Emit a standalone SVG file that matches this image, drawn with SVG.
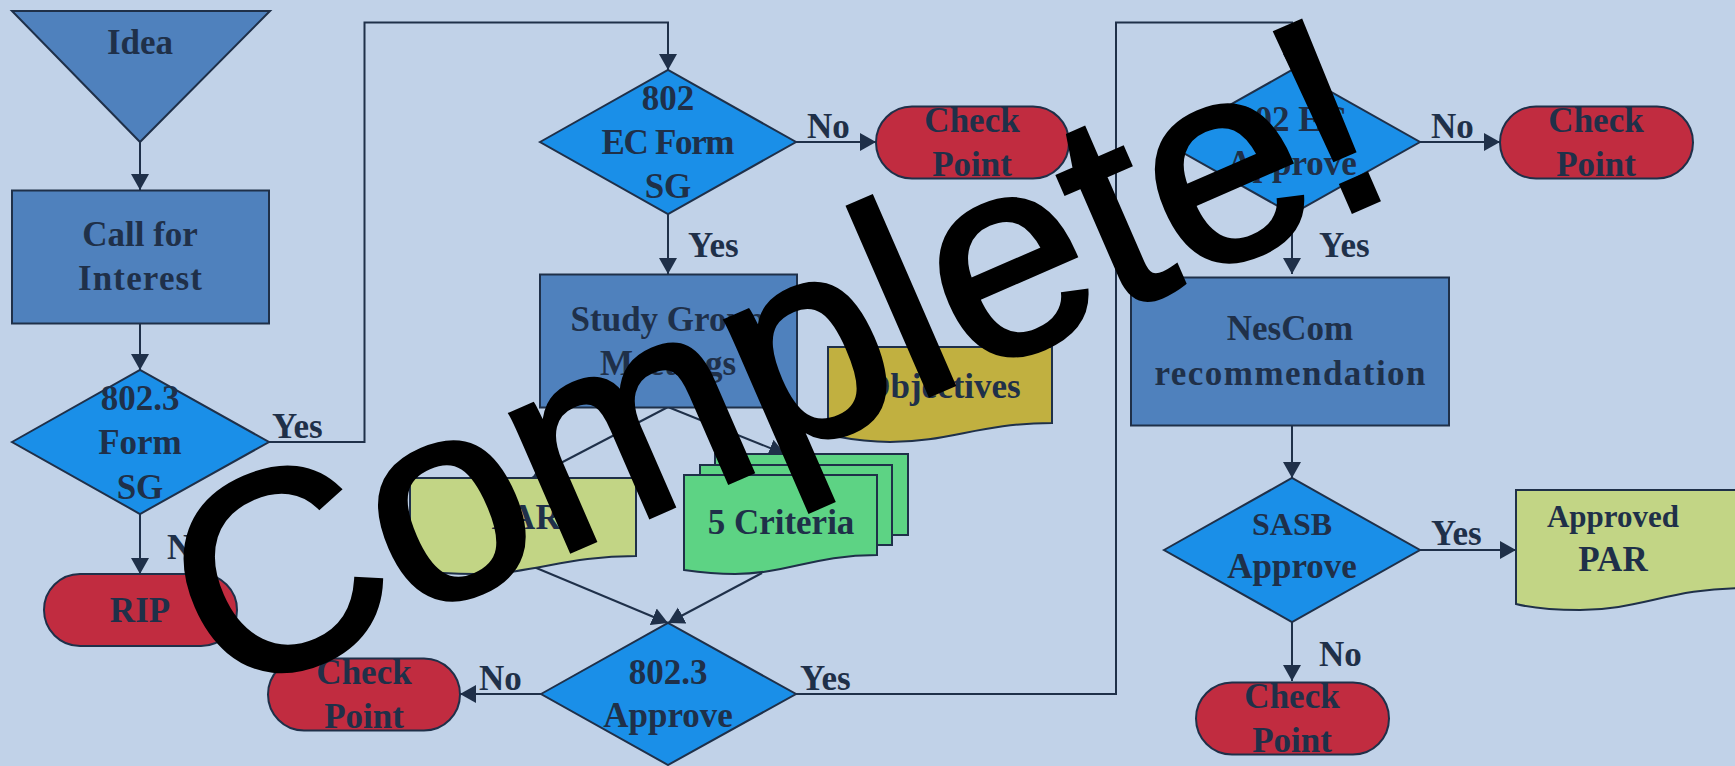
<svg xmlns="http://www.w3.org/2000/svg" width="1735" height="766" viewBox="0 0 1735 766">
<style>
.s{stroke:#1f3049;stroke-width:2}
.b{fill:#4f81bd}.d{fill:#1a8fe8}.r{fill:#c12c40}.o{fill:#c1b040}.g{fill:#5dd384}.l{fill:#c2d585}
text{font-family:"Liberation Serif",serif;font-weight:700;font-size:35px;fill:#1f3049;text-anchor:middle}
text.t{text-anchor:start}
.c{fill:none;stroke:#1f3049;stroke-width:2}
.a{marker-end:url(#h)}
#bang{font-family:"Liberation Sans",Arial,sans-serif;font-weight:400;font-size:282px;fill:#000;stroke:#000;stroke-width:5;text-anchor:start}
</style>
<defs><marker id="h" markerUnits="userSpaceOnUse" markerWidth="20" markerHeight="20" refX="16" refY="10" orient="auto"><path d="M0 1L16 10L0 19Z" fill="#1f3049"/></marker></defs>
<rect width="1735" height="766" fill="#c1d2e8"/>
<g id="connectors">
<path class="c a" d="M140 142V190"/>
<path class="c a" d="M140 323V370"/>
<path class="c a" d="M269 442H364.500V22.500H668V70"/>
<path class="c a" d="M140 514V574"/>
<path class="c a" d="M796 142H876"/>
<path class="c a" d="M668 214V274"/>
<path class="c a" d="M668 407L532 478"/>
<path class="c a" d="M668 407L785 454"/>
<path class="c a" d="M534 567L668 623"/>
<path class="c a" d="M762 573L668 623"/>
<path class="c a" d="M541 694H460"/>
<path class="c a" d="M796 694H1116V22.500H1292V70"/>
<path class="c a" d="M1420 142H1500"/>
<path class="c a" d="M1292 214V274"/>
<path class="c a" d="M1292 425V478"/>
<path class="c a" d="M1420 550H1516"/>
<path class="c a" d="M1292 622V681"/>
</g>
<g id="idea"><path class="s b" d="M12 11H270L140 142Z"/><text x="140" y="54">Idea</text></g>
<g id="call"><rect class="s b" x="12" y="190.500" width="257" height="133"/><text x="140" y="246">Call for</text><text x="140" y="290" textLength="124">Interest</text></g>
<g id="form"><path class="s d" d="M12 442L140 370L269 442L140 514Z"/><text x="140" y="410">802.3</text><text x="140" y="454">Form</text><text x="140" y="499">SG</text></g>
<g id="rip"><rect class="s r" x="44" y="574" width="193" height="72" rx="36"/><text x="140" y="622">RIP</text></g>
<g id="ec"><path class="s d" d="M540 142L668 70L796 142L668 214Z"/><text x="668" y="110">802</text><text x="668" y="154" textLength="133">EC Form</text><text x="668" y="198">SG</text></g>
<g id="cp1"><rect class="s r" x="876" y="106.500" width="193" height="72" rx="36"/><text x="972" y="132">Check</text><text x="972" y="176">Point</text></g>
<g id="study"><rect class="s b" x="540" y="274.500" width="257" height="133"/><text x="668" y="331">Study Group</text><text x="668" y="375">Meetings</text></g>
<g id="objectives"><path class="s o" d="M828 347H1052V423C980 423 950 442 890 442C860 442 845 438 828 435Z"/><text x="942" y="398">Objectives</text></g>
<g id="par"><path class="s l" d="M410 478H636V556C565 556 535 574 475 574C445 574 427 572 410 570Z"/><text x="526" y="529">PAR</text></g>
<g id="criteria">
<path class="s g" d="M715 454H908V535H880V500H715Z"/>
<path class="s g" d="M700 465H892V545H870V500H700Z"/>
<path class="s g" d="M684 475H877V555C815 555 785 574 735 574C712 574 698 572 684 570Z"/>
<text x="781" y="534">5 Criteria</text></g>
<g id="approve"><path class="s d" d="M541 694L668 623L796 694L668 765Z"/><text x="668" y="684">802.3</text><text x="668" y="727">Approve</text></g>
<g id="cp2"><rect class="s r" x="268" y="658.500" width="192" height="72" rx="36"/><text x="364" y="684">Check</text><text x="364" y="728">Point</text></g>
<g id="ebapp"><path class="s d" d="M1164 142L1292 70L1420 142L1292 214Z"/><text x="1292" y="131">802 EC</text><text x="1292" y="175">Approve</text></g>
<g id="cp3"><rect class="s r" x="1500" y="106.500" width="193" height="72" rx="36"/><text x="1596" y="132">Check</text><text x="1596" y="176">Point</text></g>
<g id="nescom"><rect class="s b" x="1131" y="277.500" width="318" height="148"/><text x="1290" y="340">NesCom</text><text x="1290" y="385" textLength="271">recommendation</text></g>
<g id="sasb"><path class="s d" d="M1164 550L1292 478L1420 550L1292 622Z"/><text x="1292" y="535" style="font-size:32px">SASB</text><text x="1292" y="578">Approve</text></g>
<g id="apar"><path class="s l" d="M1516 490H1745V588C1670 588 1640 610 1580 610C1550 610 1532 608 1516 604Z"/><text x="1613" y="527" style="font-size:31px">Approved</text><text x="1613" y="571">PAR</text></g>
<g id="cp4"><rect class="s r" x="1196" y="682.500" width="193" height="72" rx="36"/><text x="1292" y="708">Check</text><text x="1292" y="752">Point</text></g>
<g id="labels">
<text class="t" x="272" y="438">Yes</text><text class="t" x="167" y="559">No</text><text class="t" x="807" y="138">No</text><text class="t" x="688" y="257">Yes</text>
<text class="t" x="479" y="690">No</text><text class="t" x="800" y="690">Yes</text><text class="t" x="1431" y="138">No</text><text class="t" x="1319" y="257">Yes</text>
<text class="t" x="1431" y="545">Yes</text><text class="t" x="1319" y="666">No</text>
</g>
<text id="bang" transform="translate(223 702) rotate(-23.500)">Complete!</text>
</svg>
